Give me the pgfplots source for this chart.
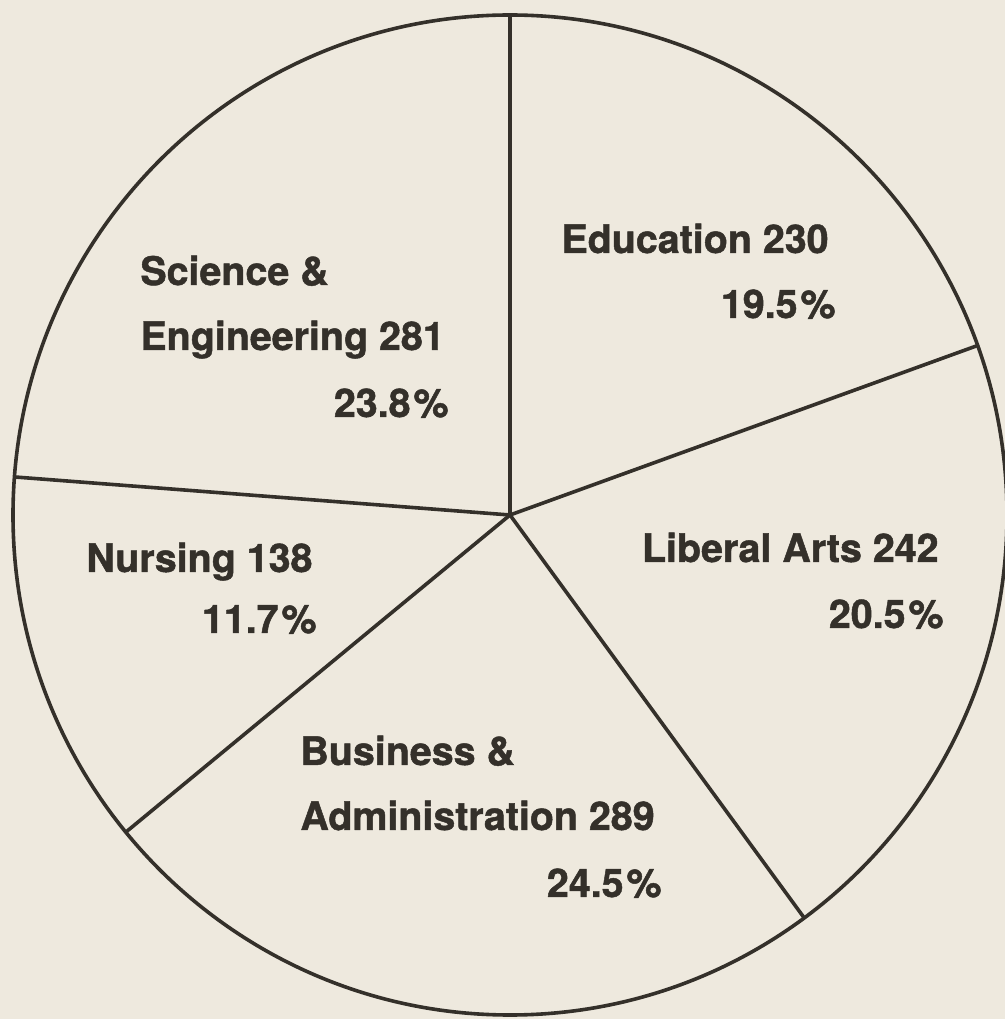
\documentclass[border=0pt]{standalone}
\usepackage{pgfplots}
\pgfplotsset{compat=1.18}
\usepackage{fontspec}
\setmainfont{TeX Gyre Heros}
\newfontfamily\labfont[FakeBold=1.2]{TeX Gyre Heros Bold}
\definecolor{bg}{RGB}{238,233,222}
\definecolor{ink}{RGB}{52,48,42}
\begin{document}
\begin{tikzpicture}
\begin{axis}[
  scale only axis, width=502.5pt, height=509.5pt,
  xmin=0, xmax=1005, ymin=0, ymax=1019,
  hide axis, clip=true,
]
% background paper
\fill[bg] (axis cs:0,0) rectangle (axis cs:1005,1019);
% pie outline
\draw[ink, line width=1.8pt] (axis cs:510,504) ellipse [x radius=497, y radius=500];
% slice boundaries (Education 230, Liberal Arts 242, Business 289, Nursing 138, Science 281; total 1180)
\addplot[ink, line width=1.8pt, no marks] coordinates {(510,504) (510,1004)};
\addplot[ink, line width=1.8pt, no marks] coordinates {(510,504) (979,674)};
\addplot[ink, line width=1.8pt, no marks] coordinates {(510,504) (805,100)};
\addplot[ink, line width=1.8pt, no marks] coordinates {(510,504) (126,187)};
\addplot[ink, line width=1.8pt, no marks] coordinates {(510,504) (15,542)};
% labels
\begin{scope}[every node/.style={text=ink, font=\labfont\fontsize{19.7}{23}\selectfont, inner sep=0pt}]
\node[anchor=base east] at (axis cs:829,766) {Education 230};
\node[anchor=base east] at (axis cs:836,701) {19.5\kern1.5pt\%};
\node[anchor=base east] at (axis cs:939,457) {Liberal Arts 242};
\node[anchor=base east] at (axis cs:944,391) {20.5\kern1.5pt\%};
\node[anchor=base west] at (axis cs:300,254) {Business \&};
\node[anchor=base west] at (axis cs:300,189) {Administration 289};
\node[anchor=base east] at (axis cs:662,122) {24.5\kern1.5pt\%};
\node[anchor=base west] at (axis cs:86,447) {Nursing 138};
\node[anchor=base east] at (axis cs:317,386) {11.7\kern1.5pt\%};
\node[anchor=base west] at (axis cs:140,734) {Science \&};
\node[anchor=base west] at (axis cs:140,669) {Engineering 281};
\node[anchor=base east] at (axis cs:449,602) {23.8\kern1.5pt\%};
\end{scope}
\end{axis}
\end{tikzpicture}
\end{document}
